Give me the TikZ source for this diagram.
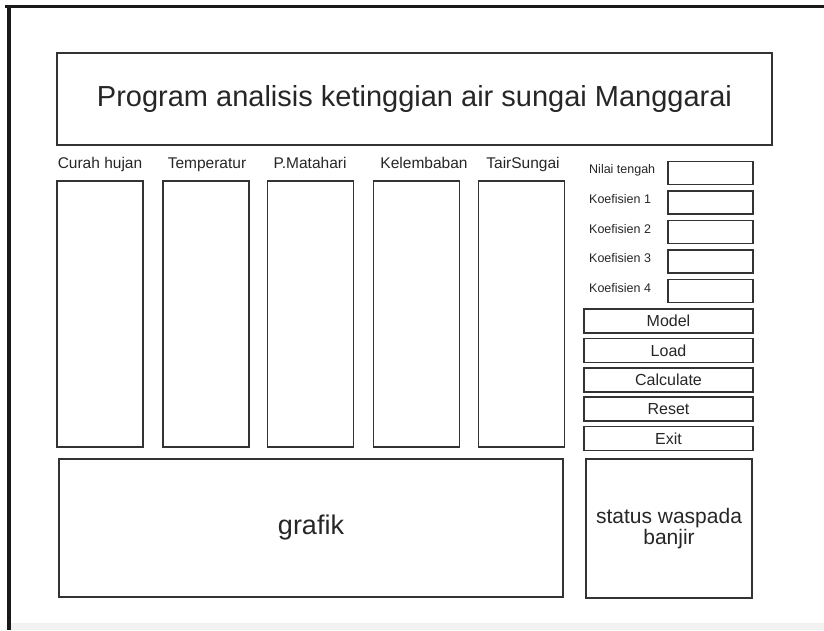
\documentclass[tikz,border=0pt]{standalone}
\usepackage{fontspec}
\setmainfont{Liberation Sans}
\tikzset{ box/.style = { rectangle
                       , draw       = black!80
                       , line width = 1.8pt
                       , inner sep  = 0pt
                       , text       = black!85
                       },
          col/.style = { box
                       , minimum width  = 86pt
                       , minimum height = 266pt
                       },
          hdr/.style = { anchor = base
                       , text = black!85
                       , inner sep = 0pt
                       , font = \fontsize{15.5}{18}\selectfont
                       },
          fld/.style = { box
                       , minimum width  = 85pt
                       , minimum height = 23pt
                       },
          lbl/.style = { anchor = west
                       , text = black!85
                       , inner sep = 0pt
                       , font = \fontsize{12.5}{15}\selectfont
                       },
          btn/.style = { box
                       , minimum width  = 169pt
                       , minimum height = 24pt
                       , font = \fontsize{16}{19}\selectfont
                       }
        }
\begin{document}
\begin{tikzpicture}[x=1pt,y=-1pt]
            \useasboundingbox (0,0) rectangle (824,630);
            % frame of the window
            \fill[black!5] (9,623) rectangle (824,630);
            \draw[black!90, line width=3.5pt] (5,6.5) -- (824,6.5);
            \draw[black!90, line width=4pt] (9,5) -- (9,630);

            \node[box, minimum width=715pt, minimum height=92pt,
                  font=\fontsize{29}{34}\selectfont]
                  (title) at (414.5,99) {Program analisis ketinggian air sungai Manggarai};

            % input columns
            \node[col] (ch) at (100,314)   {};
            \node[col] (tp) at (206,314)   {};
            \node[col] (pm) at (310.5,314) {};
            \node[col] (kl) at (416.5,314) {};
            \node[col] (ts) at (521.5,314) {};
            \node[hdr] (chl) at (100,168.5) {Curah hujan};
            \node[hdr] (tpl) at (207,168.5) {Temperatur};
            \node[hdr] (pml) at (310,168.5) {P.Matahari};
            \node[hdr] (kll) at (424,168.5) {Kelembaban};
            \node[hdr] (tsl) at (523,168.5) {TairSungai};

            % coefficients
            \node[fld] (nt) at (710.5,173)   {};
            \node[fld] (k1) at (710.5,202.5) {};
            \node[fld] (k2) at (710.5,232)   {};
            \node[fld] (k3) at (710.5,261.5) {};
            \node[fld] (k4) at (710.5,291)   {};
            \node[lbl] (ntl) at (589,170)   {Nilai tengah};
            \node[lbl] (k1l) at (589,199.5) {Koefisien 1};
            \node[lbl] (k2l) at (589,229)   {Koefisien 2};
            \node[lbl] (k3l) at (589,258.5) {Koefisien 3};
            \node[lbl] (k4l) at (589,288)   {Koefisien 4};

            % buttons
            \node[btn] (model) at (668.5,321)   {Model};
            \node[btn] (load)  at (668.5,350.5) {Load};
            \node[btn] (calc)  at (668.5,380)   {Calculate};
            \node[btn] (reset) at (668.5,409)   {Reset};
            \node[btn] (exit)  at (668.5,438.5) {Exit};

            \node[box, minimum width=504pt, minimum height=138pt,
                  font=\fontsize{27}{31}\selectfont]
                  (grafik) at (311,528) {grafik};
            \node[box, minimum width=166pt, minimum height=139pt, align=center,
                  font=\fontsize{21}{21}\selectfont]
                  (status) at (669,528.5) {status waspada\\banjir};
\end{tikzpicture}
\end{document}
